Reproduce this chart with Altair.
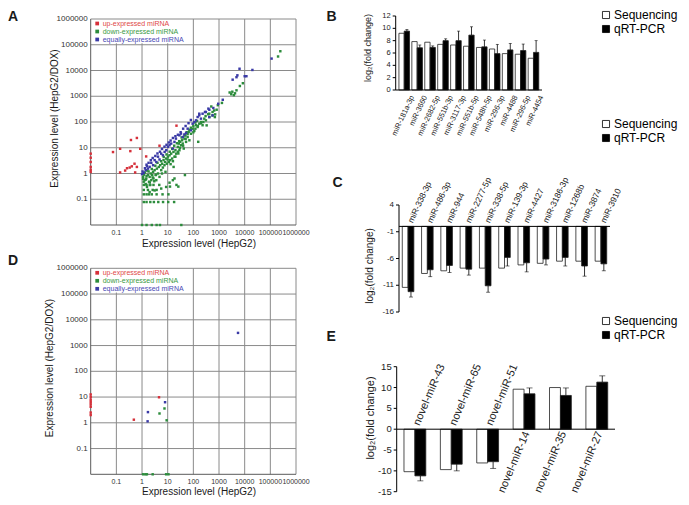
import altair as alt
import pandas as pd

W, H = 673, 489
FONT = "Liberation Sans"

# ---------------- Panel A : scatter (HepG2 vs HepG2/DOX) ----------------
a_up = [(0.074, 6.8), (0.14, 9.1), (0.37, 20), (0.63, 24), (0.35, 7.4), (0.85, 9.1),
        (0.14, 1.1), (0.22, 1.3), (0.26, 1.6), (0.33, 1.7), (0.40, 1.9), (0.51, 2.4),
        (0.63, 1.8), (0.54, 1.1), (1.45, 4.6), (4.8, 12), (22, 72),
        (0.01, 5.9), (0.01, 4.1), (0.01, 2.8), (0.01, 1.8), (0.01, 1.4), (0.01, 1.15)]

a_down = [(1.1, 0.74), (1.27, 0.55), (1.16, 0.48), (1.47, 0.64), (1.71, 0.87), (1.39, 0.39),
          (1.56, 0.30), (1.87, 0.48), (1.98, 0.74), (2.1, 0.36), (2.3, 0.55), (2.5, 0.87),
          (2.7, 1.16), (2.8, 0.64), (3.1, 1.35), (3.4, 0.87), (3.6, 0.55), (3.8, 1.55),
          (4.2, 1.0), (4.5, 1.8), (4.8, 0.74), (5.1, 2.1), (5.6, 1.35), (6.1, 2.4),
          (6.5, 1.7), (6.9, 3.3), (7.5, 2.1), (8.2, 1.16), (8.7, 3.8), (9.3, 2.4),
          (10.2, 4.5), (11.1, 2.8), (11.8, 5.1), (12.5, 3.3), (13.7, 5.9), (14.9, 3.8),
          (15.9, 0.55), (16.8, 6.9), (18.4, 4.5), (20, 8.0), (21.4, 5.9), (24.7, 10.8),
          (27, 14.5), (28.7, 8.0), (30.5, 16.9), (33.3, 12.5), (36.4, 19.5), (38.6, 14.5),
          (42.3, 9.3), (45, 22.6), (49, 30), (52, 16.9), (60, 26), (66, 41), (70, 19.5),
          (81, 35), (94, 55), (109, 45), (127, 75), (147, 64), (170, 86), (198, 100),
          (229, 75), (267, 135), (309, 116), (417, 210), (560, 245), (710, 198),
          (1.98, 0.19), (3.1, 0.22), (5.6, 0.26), (8.7, 0.30), (11.8, 0.44), (18.4, 0.64),
          (155, 17), (47, 0.87), (26, 0.31), (12.3, 0.31),
          (1.2, 0.9), (1.3, 1.1), (1.5, 0.8), (1.8, 1.2), (2.2, 1.0), (2.0, 0.45), (2.6, 0.7),
          (1.1, 0.62), (1.4, 0.58), (3.0, 0.5), (1.6, 1.3), (2.4, 1.5), (3.3, 2.0), (4.0, 2.6),
          (5.5, 3.0), (7.0, 4.4), (9.0, 5.5), (12, 7.0), (15, 9.0), (18, 12), (23, 15),
          (28, 18), (35, 25), (45, 30), (55, 40), (70, 50), (60, 34), (80, 60), (100, 70),
          (120, 95), (140, 110), (25, 7.0), (30, 10), (40, 12), (50, 22), (16, 3.0),
          (20, 4.5), (26, 6.0), (3.5, 0.9), (6.0, 1.0), (8.0, 2.8), (10, 3.5), (13, 2.3),
          (17, 1.8),
          (1.17, 0.078), (1.5, 0.078), (2.1, 0.078), (2.9, 0.078), (4.3, 0.078), (6.6, 0.078),
          (10.5, 0.078), (17.8, 0.078),
          (1.17, 0.155), (1.5, 0.155), (1.86, 0.155), (2.4, 0.155), (3.7, 0.155), (6.3, 0.155),
          (10.7, 0.155),
          (1.17, 0.23), (1.7, 0.23), (2.6, 0.23), (3.7, 0.23),
          (1.17, 0.36), (1.5, 0.36), (2.0, 0.36), (2.8, 0.36), (4.7, 0.36), (22, 0.36),
          (1.0, 0.01), (1.5, 0.01), (2.4, 0.01), (3.7, 0.01), (5.0, 0.01), (34, 0.01),
          (810, 300), (560, 180), (420, 155), (690, 155), (245, 100), (330, 74),
          (2600, 1400), (3000, 1200), (3300, 1500), (3800, 1100), (4200, 1300), (4800, 1700),
          (6500, 2500), (8500, 3200), (200000, 35000), (245000, 56000), (1300, 550),
          (500, 400), (650, 280), (380, 200), (900, 450), (300, 170), (200, 90), (150, 70),
          (100, 40), (120, 55)]

a_equal = [(1.16, 1.06), (1.39, 1.35), (1.71, 1.55), (1.98, 1.81), (1.56, 1.91), (2.3, 2.6),
           (2.7, 2.1), (3.1, 3.3), (3.6, 2.8), (4.2, 4.5), (4.8, 3.5), (5.6, 5.9), (6.5, 5.1),
           (7.6, 6.9), (8.8, 8.0), (10.2, 10.8), (11.8, 12.5), (13.7, 14.5), (15.9, 9.3),
           (18.4, 16.9), (21, 22.6), (28.7, 30.4), (33, 35.4), (38.6, 26.2), (44.9, 33),
           (52, 37.5), (60, 55), (81, 47.6), (94, 86), (109, 100), (127, 116), (147, 156),
           (170, 181), (198, 135), (229, 210), (309, 245), (417, 156), (560, 181),
           (1.0, 0.95), (1.05, 1.2), (1.3, 1.6), (1.5, 2.2), (1.8, 2.6), (2.2, 3.3), (2.6, 4.0),
           (3.3, 4.8), (4.0, 6.0), (5.0, 7.0), (6.0, 9.0), (7.5, 11), (9.0, 13), (11, 16),
           (13, 19), (16, 24), (20, 28), (25, 32), (32, 40), (40, 55), (50, 70), (65, 90),
           (80, 120), (1400, 730), (930, 510), (600, 350), (420, 300), (285, 245), (385, 330),
           (170, 210), (6300, 11700), (20000, 10500), (11700, 6000), (10000, 6000),
           (5200, 6500), (4800, 5500), (3400, 4400), (112000, 29000)]

# ---------------- Panel D : scatter ----------------
d_up = [(0.01, 12.6), (0.01, 10), (0.01, 7.9), (0.01, 6.4), (0.01, 5.2), (0.01, 4.2),
        (0.01, 2.5), (0.01, 2.0), (0.48, 1.32), (4.6, 9.8)]
d_down = [(4.8, 2.3), (7.5, 3.6), (9.1, 1.25), (1.1, 0.01), (1.35, 0.01), (1.55, 0.01),
          (2.6, 0.01), (8.7, 0.01), (10.7, 0.01)]
d_equal = [(1.7, 2.6), (1.65, 1.14), (7.9, 6.3), (5500, 3100)]

DECADES = [0.1, 1, 10, 100, 1000, 10000, 100000, 1000000]
DECADE_LABELS = ["0.1", "1", "10", "100", "1000", "10000", "100000", "1000000"]
CLASSES = ["up-expressed miRNA", "down-expressed miRNA", "equally-expressed miRNA"]
CLASS_COLORS = ["#d6303a", "#2c8c3c", "#3a3aa6"]

# ---------------- Panels B, C, E : bar charts ----------------
SERIES = ["Sequencing", "qRT-PCR"]
SERIES_FILL = ["white", "black"]

b_cats = ["miR-181a-3p", "miR-3660", "miR-2682-5p", "miR-551b-3p", "miR-3117-3p",
          "miR-551b-5p", "miR-548h-5p", "miR-296-3p", "miR-4488", "miR-296-5p", "miR-4454"]
b_seq = [9.2, 7.85, 7.75, 7.4, 7.3, 7.1, 6.9, 6.65, 5.9, 5.8, 5.15]
b_qrt = [9.55, 6.85, 6.9, 8.0, 8.0, 8.9, 7.0, 5.9, 6.5, 6.4, 6.1]
b_err = [0.25, 0.45, 0.25, 0.3, 1.55, 1.35, 1.1, 1.5, 1.05, 1.05, 1.9]
b_ticks = [0, 2, 4, 6, 8, 10, 12]

c_cats = ["miR-338-3p", "miR-486-3p", "miR-944", "miR-2277-5p", "miR-338-5p", "miR-139-3p",
          "miR-4427", "miR-3186-3p", "miR-1268b", "miR-3874", "miR-3910"]
c_seq = [-11.4, -8.8, -8.3, -7.8, -7.8, -7.8, -7.2, -6.9, -6.5, -6.5, -6.5]
c_qrt = [-12.2, -8.1, -7.3, -8.0, -11.1, -5.8, -6.8, -6.1, -5.8, -7.4, -7.0]
c_err = [1.0, 1.3, 1.3, 1.1, 1.2, 1.6, 1.7, 1.1, 1.6, 1.9, 1.3]
c_ticks = [4, -1, -6, -11, -16]

e_cats = ["novel-miR-43", "novel-miR-65", "novel-miR-51", "novel-miR-14", "novel-miR-35",
          "novel-miR-27"]
e_seq = [-10.2, -9.7, -8.1, 9.6, 10.0, 10.3]
e_qrt = [-11.2, -8.4, -7.8, 8.5, 8.1, 11.3]
e_err = [1.2, 1.6, 1.6, 1.4, 1.8, 1.5]
e_ticks = [15, 10, 5, 0, -5, -10, -15]

# ---------------- layout (chart pixel coordinates) ----------------
SC_X = [82.7, 288.0]
A_Y = [217.0, 11.0]
D_Y = [466.3, 260.3]
B_X, B_Y = [387.7, 534.0], [82.0, 8.0]
C_X, C_Y = [391.0, 602.0], [304.0, 197.0]
E_X, E_Y = [388.7, 607.0], [483.7, 358.7]
LEG_X = 592

GRID = "#8a8a8a"
AXIS_GREY = "#5a5a5a"
LEG_COLOR_EXPR = ("datum.value == 'up-expressed miRNA' ? '#e04848' : "
                  "datum.value == 'down-expressed miRNA' ? '#3a9a44' : '#4848b4'")
ONE = pd.DataFrame({"k": [0]})


def vtext(txt, x, y, size, angle=0, align="center", baseline="middle", weight="normal"):
    kw = dict(fontSize=size, align=align, baseline=baseline, color="#1a1a1a",
              fontWeight=weight)
    if angle:
        kw["angle"] = angle
    return alt.Chart(pd.DataFrame({"t": [txt]})).mark_text(**kw).encode(
        text="t:N", x=alt.value(x), y=alt.value(y))


def scatter_panel(up, down, eq, yr, xtitle_pos, ytitle_pos):
    rows = []
    for cls, pts in zip(CLASSES, [up, down, eq]):
        for x, y in pts:
            rows.append({"x": x, "y": y, "cls": cls})
    df = pd.DataFrame(rows)
    xs = alt.Scale(type="log", domain=[0.01, 1e6], range=SC_X, nice=False)
    ys = alt.Scale(type="log", domain=[0.01, 1e6], range=yr, nice=False)
    grid = pd.DataFrame({"v": DECADES, "lab": DECADE_LABELS})
    vlines = alt.Chart(grid).mark_rule(color=GRID, strokeWidth=1).encode(
        x=alt.X("v:Q", scale=xs, axis=None),
        y=alt.YDatum(0.01, scale=ys, axis=None),
        y2=alt.Y2Datum(1e6),
    )
    box = alt.Chart(ONE).mark_rect(fill="white").encode(
        x=alt.XDatum(0.01, scale=xs, axis=None),
        x2=alt.X2Datum(15),
        y=alt.YDatum(1.15e5, scale=ys, axis=None),
        y2=alt.Y2Datum(1e6),
    )
    hlines = alt.Chart(grid).mark_rule(color=GRID, strokeWidth=1).encode(
        y=alt.Y("v:Q", scale=ys, axis=None),
        x=alt.XDatum(0.01, scale=xs, axis=None),
        x2=alt.X2Datum(1e6),
    )
    left_axis = alt.Chart(ONE).mark_rule(color=AXIS_GREY, strokeWidth=1).encode(
        x=alt.XDatum(0.01, scale=xs, axis=None),
        y=alt.YDatum(0.01, scale=ys, axis=None),
        y2=alt.Y2Datum(1e6),
    )
    bottom_axis = alt.Chart(ONE).mark_rule(color=AXIS_GREY, strokeWidth=1).encode(
        y=alt.YDatum(0.01, scale=ys, axis=None),
        x=alt.XDatum(0.01, scale=xs, axis=None),
        x2=alt.X2Datum(1e6),
    )
    xlabels = alt.Chart(grid).mark_text(fontSize=7, align="center", baseline="top", dy=4,
                                        color="#333").encode(
        x=alt.X("v:Q", scale=xs, axis=None),
        y=alt.YDatum(0.01, scale=ys, axis=None),
        text="lab:N",
    )
    ylabels = alt.Chart(grid).mark_text(fontSize=8, align="right", baseline="middle", dx=-3,
                                        color="#333").encode(
        y=alt.Y("v:Q", scale=ys, axis=None),
        x=alt.XDatum(0.01, scale=xs, axis=None),
        text="lab:N",
    )
    pts = alt.Chart(df).mark_square(size=6, opacity=1).encode(
        x=alt.X("x:Q", scale=xs, axis=None),
        y=alt.Y("y:Q", scale=ys, axis=None),
        color=alt.Color("cls:N", scale=alt.Scale(domain=CLASSES, range=CLASS_COLORS),
                        legend=alt.Legend(orient="none", legendX=SC_X[0] + 3,
                                          legendY=yr[1] + 1, title=None,
                                          symbolType="square", symbolSize=14,
                                          labelFontSize=7, labelOffset=2, rowPadding=0,
                                          padding=0, labelColor={"expr": LEG_COLOR_EXPR})),
    )
    xt = vtext("Expression level (HepG2)", xtitle_pos[0], xtitle_pos[1], 10,
               baseline="bottom")
    yt = vtext("Expression level (HepG2/DOX)", ytitle_pos[0], ytitle_pos[1], 10, angle=270)
    return alt.layer(vlines, box, hlines, left_axis, bottom_axis, pts, xlabels, ylabels,
                     xt, yt)


def bar_panel(cats, seq, qrt, err, xr, yr, ydom, yticks, pad_in, pad_out, cap,
              y_font, legend_y, title_font, title_pos):
    n = len(cats)
    df = pd.DataFrame({"cat": cats * 2,
                       "series": [SERIES[0]] * n + [SERIES[1]] * n,
                       "value": list(seq) + list(qrt)})
    ends = [q + e if q >= 0 else q - e for q, e in zip(qrt, err)]
    edf = pd.DataFrame({"cat": cats, "series": [SERIES[1]] * n, "lo": qrt, "hi": ends})
    xs = alt.Scale(domain=cats, range=xr, paddingInner=pad_in, paddingOuter=pad_out)
    ys = alt.Scale(domain=ydom, range=yr, nice=False, zero=False)
    offs = alt.Scale(domain=SERIES, paddingInner=0, paddingOuter=0)
    bars = alt.Chart(df).mark_bar(stroke="#222", strokeWidth=0.8).encode(
        x=alt.X("cat:N", sort=cats, scale=xs, axis=None),
        xOffset=alt.XOffset("series:N", sort=SERIES, scale=offs),
        y=alt.Y("value:Q", scale=ys, axis=None),
        y2=alt.Y2Datum(0),
        fill=alt.Fill("series:N", scale=alt.Scale(domain=SERIES, range=SERIES_FILL),
                      legend=alt.Legend(orient="none", legendX=LEG_X, legendY=legend_y,
                                        title=None, symbolType="square", symbolSize=50,
                                        symbolStrokeColor="black", symbolStrokeWidth=0.8,
                                        labelFontSize=12, labelOffset=2, rowPadding=2,
                                        padding=0, labelColor="black")),
    )
    errs = alt.Chart(edf).mark_rule(color="black", strokeWidth=0.8).encode(
        x=alt.X("cat:N", sort=cats, scale=xs, axis=None),
        xOffset=alt.XOffset("series:N", sort=SERIES, scale=offs),
        y=alt.Y("lo:Q", scale=ys, axis=None),
        y2="hi:Q",
    )
    caps = alt.Chart(edf).mark_tick(color="black", thickness=0.8, size=cap).encode(
        x=alt.X("cat:N", sort=cats, scale=xs, axis=None),
        xOffset=alt.XOffset("series:N", sort=SERIES, scale=offs),
        y=alt.Y("hi:Q", scale=ys, axis=None),
    )
    tick_df = pd.DataFrame({"v": yticks, "lab": [str(t) for t in yticks]})
    y_line = alt.Chart(ONE).mark_rule(color="black", strokeWidth=1).encode(
        x=alt.value(xr[0]),
        y=alt.YDatum(ydom[0], scale=ys, axis=None),
        y2=alt.Y2Datum(ydom[1]),
    )
    y_ticks = alt.Chart(tick_df).mark_rule(color="black", strokeWidth=1).encode(
        y=alt.Y("v:Q", scale=ys, axis=None),
        x=alt.value(xr[0] - 3), x2=alt.value(xr[0]),
    )
    y_labels = alt.Chart(tick_df).mark_text(fontSize=y_font, align="right",
                                            baseline="middle", color="#222").encode(
        y=alt.Y("v:Q", scale=ys, axis=None),
        x=alt.value(xr[0] - 5),
        text="lab:N",
    )
    zero_line = alt.Chart(ONE).mark_rule(color="black", strokeWidth=1).encode(
        y=alt.YDatum(0, scale=ys, axis=None),
        x=alt.value(xr[0]), x2=alt.value(xr[1]),
    )
    title = vtext("log₂(fold change)", title_pos[0], title_pos[1], title_font, angle=270)
    layers = [bars, errs, caps, y_line, y_ticks, y_labels, zero_line, title]
    return layers, xs, ys


# Panel A and D
panel_a = scatter_panel(a_up, a_down, a_equal, A_Y, (191, 241), (47, 110.5))
panel_d = scatter_panel(d_up, d_down, d_equal, D_Y, (191, 488.5), (42, 360))

# Panel B
b_layers, bxs, bys = bar_panel(
    b_cats, b_seq, b_qrt, b_err, B_X, B_Y, [0, 12], b_ticks, 0.18, 0.25, 3,
    7.5, 1, 9, (359.5, 40))
b_text = alt.Chart(pd.DataFrame({"cat": b_cats})).mark_text(
    angle=295, align="right", baseline="middle", dx=-2, dy=10, fontSize=7.5,
    color="#222").encode(
    x=alt.X("cat:N", scale=bxs, axis=None),
    y=alt.YDatum(0, scale=bys, axis=None),
    text="cat:N",
)
panel_b = alt.layer(*b_layers, b_text)

# Panel C
c_layers, cxs, cys = bar_panel(
    c_cats, c_seq, c_qrt, c_err, C_X, C_Y, [-16, 4], c_ticks, 0.4, 0.17, 4,
    8, 110, 10, (362, 258))
c_text = alt.Chart(pd.DataFrame({"cat": c_cats})).mark_text(
    angle=295, align="left", baseline="middle", dx=4.5, fontSize=8.5, color="#222").encode(
    x=alt.X("cat:N", scale=cxs, axis=None),
    y=alt.YDatum(0, scale=cys, axis=None),
    text="cat:N",
)
panel_c = alt.layer(*c_layers, c_text)

# Panel E
e_layers, exs, eys = bar_panel(
    e_cats, e_seq, e_qrt, e_err, E_X, E_Y, [-15, 15], e_ticks, 0.4, 0.2, 6,
    9.5, 307, 11, (363, 410))
e_lab_df = pd.DataFrame({"cat": e_cats, "v": e_seq})
e_text_up = alt.Chart(e_lab_df).transform_filter("datum.v < 0").mark_text(
    angle=293, align="left", baseline="middle", dx=4.5, fontSize=11, color="#222").encode(
    x=alt.X("cat:N", scale=exs, axis=None),
    y=alt.YDatum(0, scale=eys, axis=None),
    text="cat:N",
)
e_text_down = alt.Chart(e_lab_df).transform_filter("datum.v >= 0").mark_text(
    angle=293, align="right", baseline="middle", dx=-1.5, dy=4, fontSize=11,
    color="#222").encode(
    x=alt.X("cat:N", scale=exs, axis=None),
    y=alt.YDatum(0, scale=eys, axis=None),
    text="cat:N",
)
panel_e = alt.layer(*e_layers, e_text_up, e_text_down)

# Panel letters
letters = [vtext("A", 0, 13, 14, align="left", baseline="alphabetic", weight="bold"),
           vtext("B", 318.5, 13, 14, align="left", baseline="alphabetic", weight="bold"),
           vtext("C", 324.5, 178.5, 14, align="left", baseline="alphabetic", weight="bold"),
           vtext("D", 0, 257, 14, align="left", baseline="alphabetic", weight="bold"),
           vtext("E", 318.5, 332.5, 14, align="left", baseline="alphabetic", weight="bold")]

chart = alt.layer(panel_a, panel_d, panel_b, panel_c, panel_e, *letters).resolve_scale(
    x="independent", y="independent", xOffset="independent",
    color="independent", fill="independent"
).properties(
    width=W, height=H, autosize=alt.AutoSizeParams(type="none"), padding=0
).configure(font=FONT).configure_view(stroke=None).configure_legend(labelFont=FONT)

chart.save("out.html", embed_options={"renderer": "svg", "actions": False})
